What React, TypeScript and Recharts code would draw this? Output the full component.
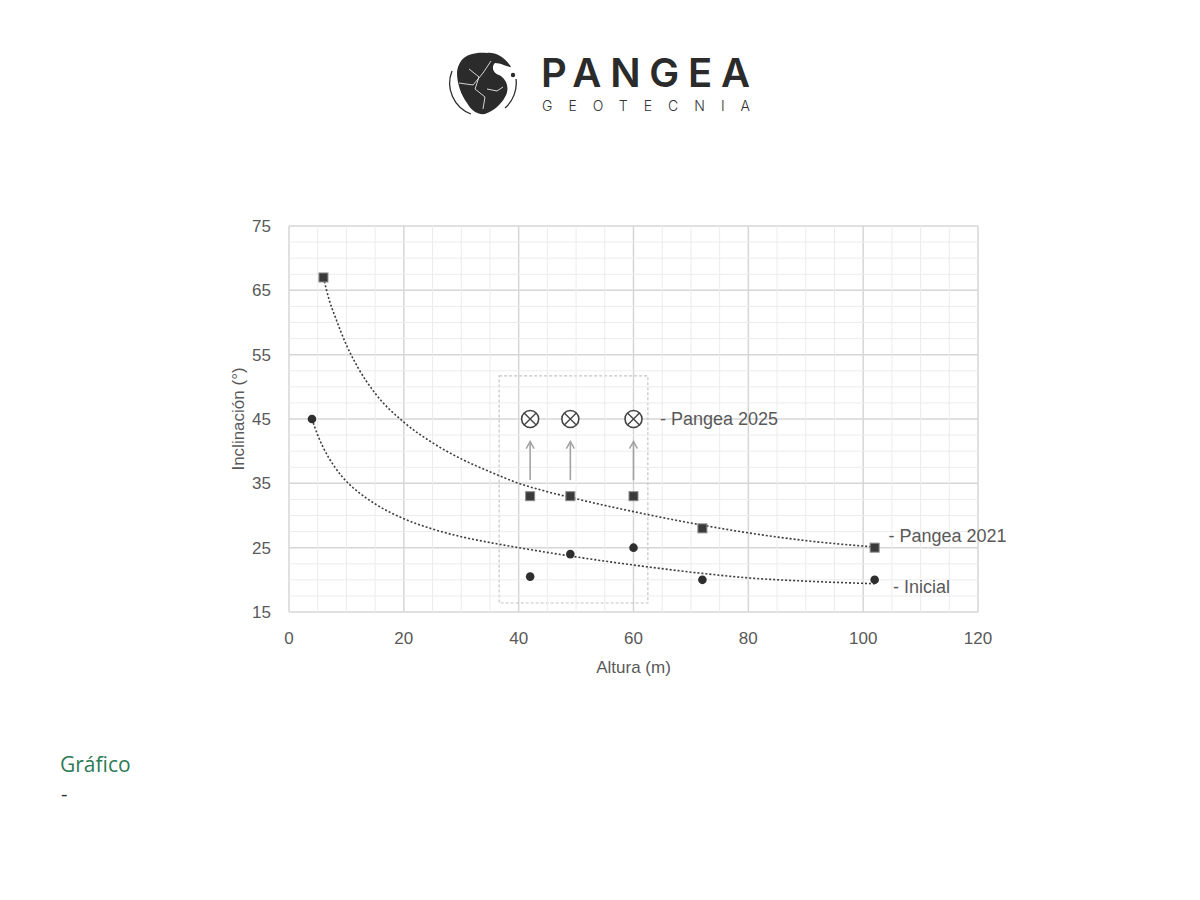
import React from 'react';
import {
  ComposedChart,
  XAxis,
  YAxis,
  CartesianGrid,
  Line,
  Scatter,
  ReferenceLine,
  ReferenceArea,
  Label,
} from 'recharts';

// ---- axes ----
const xTicks = [0, 20, 40, 60, 80, 100, 120];
const yTicks = [15, 25, 35, 45, 55, 65, 75];
const xMinor = [5, 10, 15, 25, 30, 35, 45, 50, 55, 65, 70, 75, 85, 90, 95, 105, 110, 115];
const yMinor = [17.5, 20, 22.5, 27.5, 30, 32.5, 37.5, 40, 42.5, 47.5, 50, 52.5, 57.5, 60, 62.5, 67.5, 70, 72.5];

// ---- series ----
const pangea2021X = [6, 42, 49, 60, 72, 102];
const pangea2021Y = [67, 33, 33, 33, 28, 25];

const inicialX = [4, 42, 49, 60, 72, 102];
const inicialY = [45, 20.5, 24, 25, 20, 20];

const pangea2025X = [42, 49, 60];
const pangea2025Y = [45, 45, 45];

const arrowFromY = [35.5, 35.5, 35.5];
const arrowToY = [41.5, 41.5, 41.5];

// trend curves
const trend2021X = [6, 7, 8, 10, 12, 15, 20, 25, 30, 35, 40, 45, 50, 60, 72, 80, 90, 102];
const trend2021Y = [67, 63.5, 61, 56.5, 53, 49, 44.5, 41.3, 38.8, 36.8, 35, 33.7, 32.6, 30.6, 28.5, 27.3, 26.1, 25.1];

const trendInicialX = [4, 5, 6, 8, 10, 12, 15, 20, 25, 30, 35, 42, 49, 60, 72, 80, 90, 102];
const trendInicialY = [45, 42.5, 40.5, 37.5, 35.3, 33.7, 31.8, 29.5, 27.9, 26.7, 25.8, 24.7, 23.7, 22.3, 21, 20.3, 19.8, 19.4];

const zip = (xs: number[], ys: number[]) => xs.map((x, i) => ({ x, y: ys[i] }));

const pangea2021 = zip(pangea2021X, pangea2021Y);
const inicial = zip(inicialX, inicialY);
const pangea2025 = zip(pangea2025X, pangea2025Y);
const trend2021 = zip(trend2021X, trend2021Y);
const trendInicial = zip(trendInicialX, trendInicialY);
const arrows = pangea2025X.map((x, i) => [
  { x, y: arrowFromY[i] },
  { x, y: arrowToY[i] },
]);

const seriesLabels = [
  { x: 104.4, y: 26.8, text: '- Pangea 2021' },
  { x: 105.2, y: 18.9, text: '- Inicial' },
  { x: 64.6, y: 45, text: '- Pangea 2025' },
];

const FONT = '"Liberation Sans", Arial, sans-serif';
const TEXT = '#595959';

const SquareShape = (p: any) => (
  <rect x={p.cx - 4.5} y={p.cy - 4.5} width={9} height={9} fill="#3a3a3a" stroke="#8a8a8a" strokeWidth={1} />
);
const DotShape = (p: any) => <circle cx={p.cx} cy={p.cy} r={4.3} fill="#2e2e2e" />;
const CrossCircle = (p: any) => {
  const r = 8.5;
  const d = r * 0.7071;
  return (
    <g>
      <circle cx={p.cx} cy={p.cy} r={r} fill="#ffffff" stroke="#454545" strokeWidth={1.6} />
      <line x1={p.cx - d} y1={p.cy - d} x2={p.cx + d} y2={p.cy + d} stroke="#454545" strokeWidth={1.4} />
      <line x1={p.cx - d} y1={p.cy + d} x2={p.cx + d} y2={p.cy - d} stroke="#454545" strokeWidth={1.4} />
    </g>
  );
};
const LabelShape = (p: any) => (
  <text x={p.cx} y={p.cy} dy="0.35em" fill={TEXT} fontSize={18} fontFamily={FONT}>
    {p.payload.text}
  </text>
);
const arrowHead = (p: any) => {
  if (p.index !== 1) return <g key={`a${p.index}`} />;
  return (
    <path
      key={`a${p.index}`}
      d={`M${p.cx - 4},${p.cy + 7} L${p.cx},${p.cy} L${p.cx + 4},${p.cy + 7}`}
      fill="none"
      stroke="#a3a3a3"
      strokeWidth={1.5}
    />
  );
};

const XTitle = (props: any) => {
  const vb = props.viewBox || {};
  return (
    <text x={vb.x + vb.width / 2} y={vb.y + 61} textAnchor="middle" fill={TEXT} fontSize={17} fontFamily={FONT}>
      Altura (m)
    </text>
  );
};
const YTitle = (props: any) => {
  const vb = props.viewBox || {};
  const cx = vb.x + 39;
  const cy = vb.y + vb.height / 2;
  return (
    <text
      x={cx}
      y={cy}
      textAnchor="middle"
      fill={TEXT}
      fontSize={17}
      fontFamily={FONT}
      transform={`rotate(-90, ${cx}, ${cy})`}
    >
      Inclinación (°)
    </text>
  );
};

const Logo = () => (
  <svg width={1200} height={140} style={{ position: 'absolute', left: 0, top: 0 }}>
    <g transform="translate(483,83)">
      <path d="M -31,-12 A 33 33 0 0 0 -12,31" fill="none" stroke="#2b2b2b" strokeWidth={1.3} />
      <path d="M 33,-4 A 33 33 0 0 1 22,25" fill="none" stroke="#2b2b2b" strokeWidth={1.3} />
      <path
        d="M -22,-22 C -16,-30 -4,-31 4,-30 C 12,-31 22,-26 28,-16 C 24,-16 18,-20 12,-20 C 8,-16 10,-10 16,-8 C 24,-4 27,6 22,14 C 18,22 10,28 2,31 C -6,32 -12,27 -16,20 C -22,12 -26,0 -26,-10 C -26,-15 -24,-19 -22,-22 Z"
        fill="#2b2b2b"
      />
      <path d="M -14,-14 L -4,-6 L -8,6 L 2,14 L 0,26" fill="none" stroke="#ffffff" strokeWidth={0.8} />
      <path d="M -24,0 L -10,2 L 0,-10 L 8,-22" fill="none" stroke="#ffffff" strokeWidth={0.8} />
      <path d="M 4,6 L 14,8 L 20,4" fill="none" stroke="#ffffff" strokeWidth={0.8} />
      <circle cx={30} cy={-8} r={2.2} fill="#2b2b2b" />
    </g>
    <text
      x={541}
      y={87}
      fontFamily='Inter, "Open Sans", sans-serif'
      fontWeight={600}
      fontSize={40}
      fill="#2b2b2b"
      textLength={209}
      lengthAdjust="spacing"
    >
      PANGEA
    </text>
    <text
      x={542}
      y={111}
      fontFamily='Inter, "Open Sans", sans-serif'
      fontWeight={300}
      fontSize={14}
      fill="#333333"
      textLength={208}
      lengthAdjust="spacing"
    >
      GEOTECNIA
    </text>
  </svg>
);

export default function App() {
  return (
    <div style={{ position: 'absolute', left: 0, top: 0, width: 1200, height: 900, background: '#ffffff', overflow: 'hidden' }}>
      <Logo />
      <div style={{ position: 'absolute', left: 205, top: 208, width: 838, height: 505 }}>
        <ComposedChart width={838} height={505} margin={{ top: 18, right: 65, bottom: 0, left: 0 }}>
          {xMinor.map((v) => (
            <ReferenceLine key={`vx${v}`} x={v} stroke="#ececec" strokeWidth={1} />
          ))}
          {yMinor.map((v) => (
            <ReferenceLine key={`hy${v}`} y={v} stroke="#ececec" strokeWidth={1} />
          ))}
          <CartesianGrid stroke="#d6d6d6" strokeWidth={1.5} />
          <XAxis
            type="number"
            dataKey="x"
            domain={[0, 120]}
            ticks={xTicks}
            axisLine={false}
            tickLine={false}
            tickSize={0}
            tickMargin={20}
            height={101}
            tick={{ fill: TEXT, fontSize: 17, fontFamily: FONT }}
          >
            <Label content={XTitle} />
          </XAxis>
          <YAxis
            type="number"
            dataKey="y"
            domain={[15, 75]}
            ticks={yTicks}
            axisLine={false}
            tickLine={false}
            tickSize={0}
            tickMargin={18}
            width={84}
            tick={{ fill: TEXT, fontSize: 17, fontFamily: FONT }}
          >
            <Label content={YTitle} />
          </YAxis>
          <ReferenceArea
            x1={36.6}
            x2={62.5}
            y1={16.4}
            y2={51.7}
            fill="none"
            fillOpacity={0}
            stroke="#c4c4c4"
            strokeWidth={1.2}
            strokeDasharray="3 2"
          />
          <Line
            data={trend2021}
            dataKey="y"
            type="monotone"
            stroke="#3d3d3d"
            strokeWidth={1.6}
            strokeDasharray="2 2"
            dot={false}
            activeDot={false}
            isAnimationActive={false}
          />
          <Line
            data={trendInicial}
            dataKey="y"
            type="monotone"
            stroke="#3d3d3d"
            strokeWidth={1.6}
            strokeDasharray="2 2"
            dot={false}
            activeDot={false}
            isAnimationActive={false}
          />
          {arrows.map((a, i) => (
            <Line
              key={`arrow${i}`}
              data={a}
              dataKey="y"
              type="linear"
              stroke="#a3a3a3"
              strokeWidth={1.6}
              dot={arrowHead}
              activeDot={false}
              isAnimationActive={false}
            />
          ))}
          <Scatter data={pangea2021} dataKey="y" shape={SquareShape} isAnimationActive={false} />
          <Scatter data={inicial} dataKey="y" shape={DotShape} isAnimationActive={false} />
          <Scatter data={pangea2025} dataKey="y" shape={CrossCircle} isAnimationActive={false} />
          <Scatter data={seriesLabels} dataKey="y" shape={LabelShape} isAnimationActive={false} />
        </ComposedChart>
      </div>
      <div
        style={{
          position: 'absolute',
          left: 60,
          top: 750,
          fontFamily: '"Open Sans", sans-serif',
          fontSize: 21,
          color: '#2d7a56',
        }}
      >
        Gráfico
      </div>
      <div
        style={{
          position: 'absolute',
          left: 61,
          top: 780,
          fontFamily: '"Open Sans", sans-serif',
          fontSize: 20,
          color: '#333333',
        }}
      >
        -
      </div>
    </div>
  );
}
